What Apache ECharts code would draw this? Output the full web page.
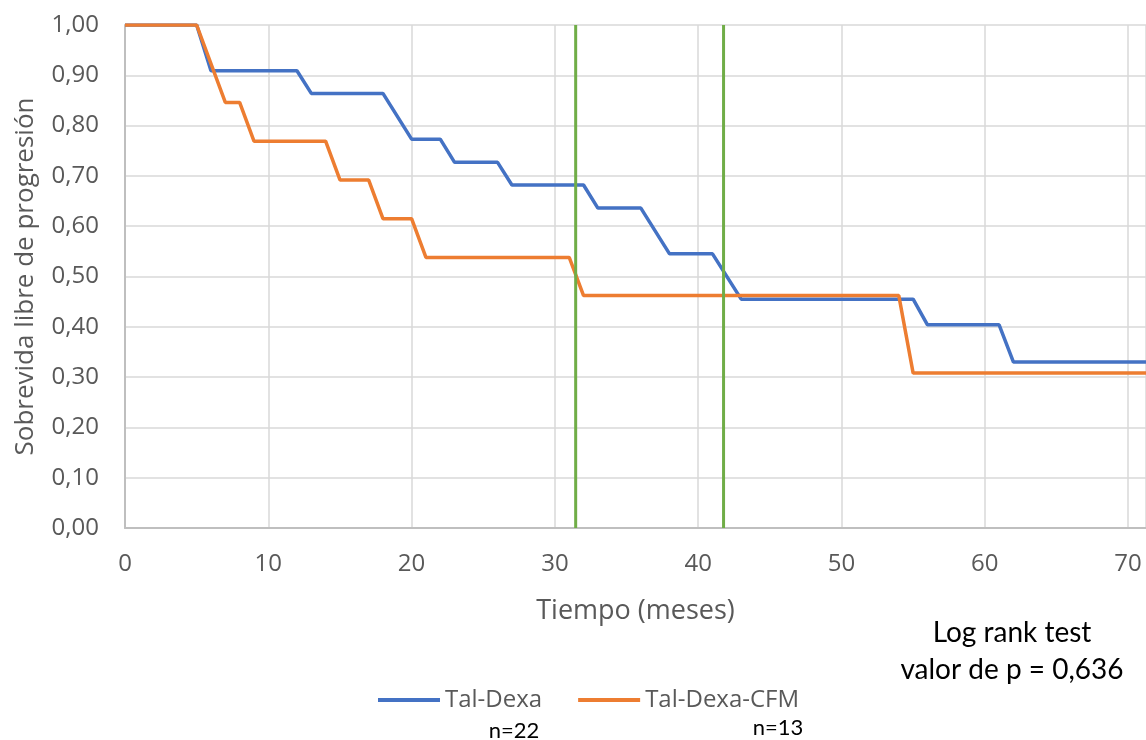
<!DOCTYPE html>
<html>
<head>
<meta charset="utf-8">
<script src="https://cdn.jsdelivr.net/npm/echarts@6/dist/echarts.min.js"></script>
<style>html,body{margin:0;padding:0;background:#fff}#c{width:1146px;height:740px}</style>
</head>
<body>
<div id="c"></div>
<script>
// Data
var seriesNames = ['Tal-Dexa', 'Tal-Dexa-CFM'];
var sampleSizes = ['n=22', 'n=13'];
var blueX = [0, 5, 6, 12, 13, 18, 20, 22, 23, 26, 27, 32, 33, 36, 38, 41, 43, 55, 56, 61, 62, 72];
var blueY = [1, 1, 0.909, 0.909, 0.864, 0.864, 0.773, 0.773, 0.727, 0.727, 0.682, 0.682, 0.636, 0.636, 0.545, 0.545, 0.455, 0.455, 0.404, 0.404, 0.33, 0.33];
var orangeX = [0, 5, 7, 8, 9, 14, 15, 17, 18, 20, 21, 31, 32, 54, 55, 72];
var orangeY = [1, 1, 0.846, 0.846, 0.769, 0.769, 0.692, 0.692, 0.615, 0.615, 0.538, 0.538, 0.462, 0.462, 0.308, 0.308];
var medianLines = [31.45, 41.77];
var xTicks = [0, 10, 20, 30, 40, 50, 60, 70];
var annotationLines = ['Log rank test', 'valor de p = 0,636'];

function pairs(xs, ys) { return xs.map(function (x, i) { return [x, ys[i]]; }); }

var chart = echarts.init(document.getElementById('c'), null, { renderer: 'canvas' });
var axisFont = '"Open Sans", "DejaVu Sans", sans-serif';
var noteFont = 'Lato, "Open Sans", sans-serif';
var series = [
  { name: seriesNames[0], type: 'line', data: pairs(blueX, blueY), showSymbol: false, symbol: 'none',
    lineStyle: { color: '#4472c4', width: 3.5 }, itemStyle: { color: '#4472c4' }, z: 3, animation: false },
  { name: seriesNames[1], type: 'line', data: pairs(orangeX, orangeY), showSymbol: false, symbol: 'none',
    lineStyle: { color: '#ed7d31', width: 3.5 }, itemStyle: { color: '#ed7d31' }, z: 4, animation: false }
];
medianLines.forEach(function (m) {
  series.push({ type: 'line', data: [[m, 0], [m, 1]], showSymbol: false, symbol: 'none', silent: true,
    lineStyle: { color: '#70ad47', width: 3 }, z: 5, animation: false, legendHoverLink: false });
});

chart.setOption({
  animation: false,
  backgroundColor: '#ffffff',
  grid: { left: 125, right: 0, top: 25, bottom: 212, containLabel: false },
  xAxis: {
    type: 'value', min: 0, max: 71.25, interval: 10,
    name: 'Tiempo (meses)', nameLocation: 'middle', nameGap: 70,
    nameTextStyle: { fontFamily: axisFont, fontSize: 27, color: '#595959' },
    axisLine: { show: true, lineStyle: { color: '#bfbfbf', width: 2 } },
    axisTick: { show: false },
    axisLabel: { fontFamily: axisFont, fontSize: 24, color: '#595959', margin: 24, showMaxLabel: false,
      formatter: function (v) { return xTicks.indexOf(v) >= 0 ? String(v) : ''; } },
    splitLine: { show: true, lineStyle: { color: '#d9d9d9', width: 1.5 } }
  },
  yAxis: {
    type: 'value', min: 0, max: 1, interval: 0.1,
    name: 'Sobrevida libre de progresión', nameLocation: 'middle', nameGap: 86,
    nameTextStyle: { fontFamily: axisFont, fontSize: 26, color: '#595959' },
    axisLine: { show: true, lineStyle: { color: '#bfbfbf', width: 2 } },
    axisTick: { show: false },
    axisLabel: { fontFamily: axisFont, fontSize: 24, color: '#595959', margin: 26,
      formatter: function (v) { return v.toFixed(2).replace('.', ','); } },
    splitLine: { show: true, lineStyle: { color: '#d9d9d9', width: 1.5 } }
  },
  legend: {
    data: seriesNames, left: 373, top: 683, icon: 'rect', itemWidth: 62, itemHeight: 4, itemGap: 36,
    textStyle: { fontFamily: axisFont, fontSize: 24, color: '#595959' }
  },
  graphic: [
    { type: 'text', x: 514, y: 731, style: { text: sampleSizes[0], fontFamily: noteFont, fontSize: 22, fill: '#000', align: 'center', verticalAlign: 'middle' } },
    { type: 'text', x: 778, y: 728, style: { text: sampleSizes[1], fontFamily: noteFont, fontSize: 22, fill: '#000', align: 'center', verticalAlign: 'middle' } },
    { type: 'text', x: 1012, y: 633, style: { text: annotationLines[0], fontFamily: noteFont, fontSize: 28, fill: '#000', align: 'center', verticalAlign: 'middle' } },
    { type: 'text', x: 1012, y: 670, style: { text: annotationLines[1], fontFamily: noteFont, fontSize: 28, fill: '#000', align: 'center', verticalAlign: 'middle' } }
  ],
  series: series
});
</script>
</body>
</html>
